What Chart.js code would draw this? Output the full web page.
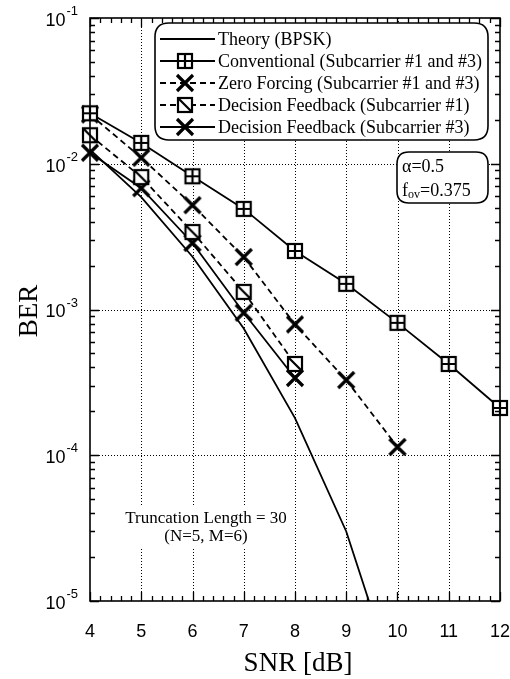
<!DOCTYPE html>
<html>
<head>
<meta charset="utf-8">
<script src="https://cdn.jsdelivr.net/npm/chart.js@4.4.1/dist/chart.umd.min.js"></script>
<style>
  body{margin:0;background:#fff;}
  canvas{display:block;}
</style>
</head>
<body>
<canvas id="ber" width="510" height="679"></canvas>
<script>
// SNR points (dB)
const snr = [4, 5, 6, 7, 8, 9, 10, 11, 12];
const theorySnr = [4, 5, 6, 7, 8, 9, 10];
// BER curves
const theoryBer = [0.0125, 0.0059, 0.0023, 0.00074, 0.00018, 0.00003, 0.0000025];
const conventional = [0.0222, 0.0139, 0.0082, 0.0049, 0.00252, 0.0015, 0.00081, 0.000423, 0.000211];
const zeroForcing = [0.0218, 0.011, 0.0052, 0.00229, 0.00079, 0.000328, 0.000114];
const dfSub1 = [0.0157, 0.0081, 0.0034, 0.00132, 0.000423];
const dfSub3 = [0.0119, 0.0068, 0.00286, 0.00095, 0.000339];

const xTicks = [4, 5, 6, 7, 8, 9, 10, 11, 12];
const yTicks = [1e-5, 1e-4, 1e-3, 1e-2, 1e-1];
const yExp = ['-5', '-4', '-3', '-2', '-1'];
const legendLabels = [
  'Theory (BPSK)',
  'Conventional (Subcarrier #1 and #3)',
  'Zero Forcing (Subcarrier #1 and #3)',
  'Decision Feedback (Subcarrier #1)',
  'Decision Feedback (Subcarrier #3)'
];

const SERIF = '"Liberation Serif", "Times New Roman", serif';
const SANS = '"Liberation Sans", Arial, sans-serif';

function pts(xs, ys){ return ys.map((v,i)=>({x:xs[i], y:v})); }

function makeMarker(kind){
  const c = document.createElement('canvas');
  c.width = 22; c.height = 22;
  const g = c.getContext('2d');
  g.strokeStyle = '#000';
  if (kind === 'boxplus' || kind === 'boxslash'){
    g.lineWidth = 2.2;
    g.fillStyle = '#fff';
    g.fillRect(4, 4, 14, 14);
    g.strokeRect(4, 4, 14, 14);
    g.beginPath();
    if (kind === 'boxplus'){
      g.moveTo(11, 4); g.lineTo(11, 18);
      g.moveTo(4, 11); g.lineTo(18, 11);
    } else {
      g.moveTo(4, 4); g.lineTo(18, 18);
    }
    g.stroke();
  } else {
    g.lineWidth = 3.2;
    g.beginPath();
    g.moveTo(3, 3); g.lineTo(19, 19);
    g.moveTo(19, 3); g.lineTo(3, 19);
    g.stroke();
  }
  return c;
}
const mBoxPlus = makeMarker('boxplus');
const mBoxSlash = makeMarker('boxslash');
const mCross = makeMarker('cross');

const styles = [
  {dash: [], marker: null},
  {dash: [], marker: mBoxPlus},
  {dash: [6, 4], marker: mCross},
  {dash: [6, 4], marker: mBoxSlash},
  {dash: [], marker: mCross}
];

function roundRect(ctx, x, y, w, h, r){
  ctx.beginPath();
  ctx.moveTo(x + r, y);
  ctx.lineTo(x + w - r, y);
  ctx.quadraticCurveTo(x + w, y, x + w, y + r);
  ctx.lineTo(x + w, y + h - r);
  ctx.quadraticCurveTo(x + w, y + h, x + w - r, y + h);
  ctx.lineTo(x + r, y + h);
  ctx.quadraticCurveTo(x, y + h, x, y + h - r);
  ctx.lineTo(x, y + r);
  ctx.quadraticCurveTo(x, y, x + r, y);
  ctx.closePath();
}

const decor = {
  id: 'decor',
  beforeDatasetsDraw(chart){
    const {ctx, chartArea: a, scales: {x, y}} = chart;
    ctx.save();
    ctx.strokeStyle = '#000';
    ctx.lineWidth = 1;
    ctx.setLineDash([1, 2]);
    ctx.beginPath();
    xTicks.slice(1, -1).forEach(v => {
      const px = Math.round(x.getPixelForValue(v)) + 0.5;
      ctx.moveTo(px, a.top); ctx.lineTo(px, a.bottom);
    });
    yTicks.slice(1, -1).forEach(v => {
      const py = Math.round(y.getPixelForValue(v)) + 0.5;
      ctx.moveTo(a.left, py); ctx.lineTo(a.right, py);
    });
    ctx.stroke();
    ctx.setLineDash([]);
    // note text with white background
    ctx.fillStyle = '#fff';
    ctx.fillRect(120, 505, 172, 42);
    ctx.fillStyle = '#000';
    ctx.font = '17px ' + SERIF;
    ctx.textAlign = 'center';
    ctx.textBaseline = 'middle';
    ctx.fillText('Truncation Length = 30', 206, 519);
    ctx.fillText('(N=5, M=6)', 206, 537);
    ctx.restore();
  },
  afterDatasetsDraw(chart){
    const {ctx, chartArea: a, scales: {x, y}} = chart;
    ctx.save();
    ctx.strokeStyle = '#000';
    ctx.fillStyle = '#000';
    ctx.lineWidth = 1.6;
    ctx.strokeRect(a.left, a.top, a.right - a.left, a.bottom - a.top);

    // ticks on all four sides
    ctx.lineWidth = 1.3;
    ctx.beginPath();
    for (let v = 4; v <= 12.001; v += 0.2){
      const px = Math.round(x.getPixelForValue(v)) + 0.5;
      const major = Math.abs(v - Math.round(v)) < 1e-6;
      const len = major ? 9 : 5;
      ctx.moveTo(px, a.bottom); ctx.lineTo(px, a.bottom - len);
      ctx.moveTo(px, a.top); ctx.lineTo(px, a.top + len);
    }
    for (let e = -5; e <= -1; e++){
      for (let m = 1; m <= 9; m++){
        const v = m * Math.pow(10, e);
        if (v > 0.1000001) break;
        const py = Math.round(y.getPixelForValue(v)) + 0.5;
        const len = m === 1 ? 9 : 5;
        ctx.moveTo(a.left, py); ctx.lineTo(a.left + len, py);
        ctx.moveTo(a.right, py); ctx.lineTo(a.right - len, py);
      }
    }
    ctx.stroke();

    // tick labels
    ctx.font = '18px ' + SANS;
    ctx.textAlign = 'center';
    ctx.textBaseline = 'middle';
    xTicks.forEach(v => ctx.fillText(String(v), x.getPixelForValue(v), 632));
    yTicks.forEach((v, i) => {
      const py = y.getPixelForValue(v);
      ctx.font = '13px ' + SANS;
      ctx.textAlign = 'left';
      ctx.textBaseline = 'alphabetic';
      const ew = ctx.measureText(yExp[i]).width;
      const ex = 78 - ew;
      ctx.fillText(yExp[i], ex, py - 3);
      ctx.font = '18px ' + SANS;
      ctx.textAlign = 'right';
      ctx.textBaseline = 'middle';
      ctx.fillText('10', ex - 1, py + 3);
    });

    // axis titles
    ctx.font = '27px ' + SERIF;
    ctx.textAlign = 'center';
    ctx.textBaseline = 'middle';
    ctx.fillText('SNR [dB]', 298, 664);
    ctx.save();
    ctx.translate(30, 311);
    ctx.rotate(-Math.PI / 2);
    ctx.fillText('BER', 0, 0);
    ctx.restore();

    // legend
    ctx.lineWidth = 1.6;
    roundRect(ctx, 155, 23, 333, 117, 14);
    ctx.fillStyle = '#fff';
    ctx.fill();
    ctx.stroke();
    ctx.fillStyle = '#000';
    ctx.font = '18px ' + SERIF;
    ctx.textAlign = 'left';
    ctx.textBaseline = 'middle';
    legendLabels.forEach((lab, i) => {
      const ly = 39 + i * 22;
      const st = styles[i];
      ctx.lineWidth = 1.8;
      ctx.setLineDash(st.dash);
      ctx.beginPath();
      ctx.moveTo(160, ly); ctx.lineTo(215, ly);
      ctx.stroke();
      ctx.setLineDash([]);
      if (st.marker) ctx.drawImage(st.marker, 185 - 11, ly - 11);
      ctx.fillText(lab, 218, ly + 1);
    });

    // parameter box
    ctx.lineWidth = 1.6;
    roundRect(ctx, 397, 152, 91, 51, 12);
    ctx.fillStyle = '#fff';
    ctx.fill();
    ctx.stroke();
    ctx.fillStyle = '#000';
    ctx.font = '18px ' + SERIF;
    ctx.textBaseline = 'alphabetic';
    ctx.fillText('\u03B1=0.5', 402, 172);
    ctx.fillText('f', 402, 196);
    let fx = 402 + ctx.measureText('f').width;
    ctx.font = '12px ' + SERIF;
    ctx.fillText('ov', fx, 198);
    fx += ctx.measureText('ov').width;
    ctx.font = '18px ' + SERIF;
    ctx.fillText('=0.375', fx, 196);
    ctx.restore();
  }
};

const seriesData = [
  pts(theorySnr, theoryBer),
  pts(snr, conventional),
  pts(snr, zeroForcing),
  pts(snr, dfSub1),
  pts(snr, dfSub3)
];

new Chart(document.getElementById('ber'), {
  type: 'line',
  data: {
    datasets: seriesData.map((d, i) => ({
      label: legendLabels[i],
      data: d,
      borderColor: '#000',
      borderWidth: 1.8,
      borderDash: styles[i].dash,
      pointStyle: styles[i].marker || false,
      pointRadius: styles[i].marker ? 8 : 0,
      tension: 0,
      fill: false,
      clip: i === 0 ? 0 : false
    }))
  },
  options: {
    responsive: false,
    animation: false,
    layout: {padding: {left: 90, top: 18, right: 10, bottom: 78}},
    scales: {
      x: {type: 'linear', min: 4, max: 12, display: false},
      y: {type: 'logarithmic', min: 1e-5, max: 1e-1, display: false}
    },
    plugins: {legend: {display: false}, tooltip: {enabled: false}}
  },
  plugins: [decor]
});
</script>
</body>
</html>
